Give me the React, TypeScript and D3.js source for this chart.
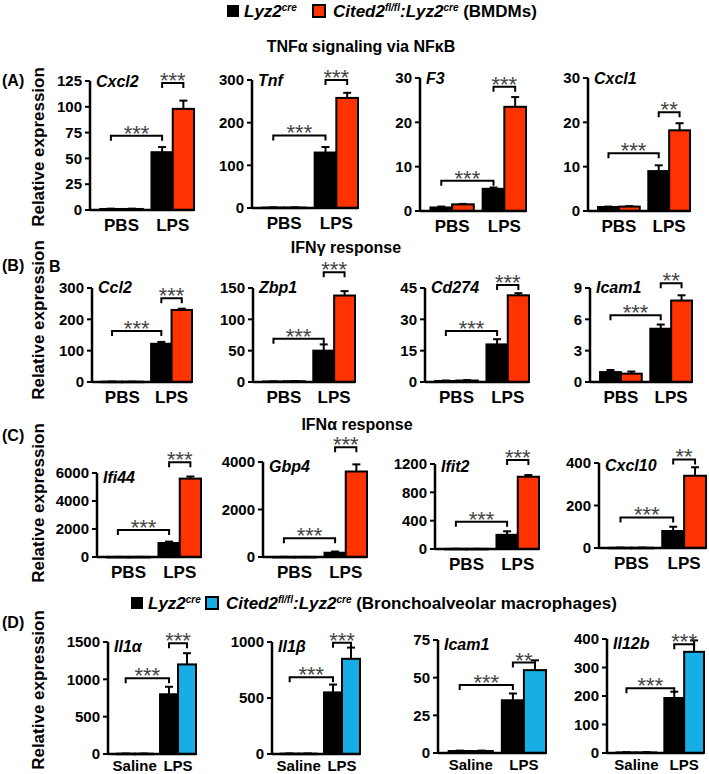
import React from "react";
import * as d3 from "d3";

const FONT = "Arial, 'Liberation Sans', Helvetica, sans-serif";
const RED = "#ff3300";
const BLUE = "#17aee6";

// panels: A (4), B (4), C (4), D (4)
const genes = [
  "Cxcl2", "Tnf", "F3", "Cxcl1",
  "Ccl2", "Zbp1", "Cd274", "Icam1",
  "Ifi44", "Gbp4", "Ifit2", "Cxcl10",
  "Il1\u03b1", "Il1\u03b2", "Icam1", "Il12b",
];
const treatmentsBMDM = ["PBS", "LPS"];
const treatmentsBAL = ["Saline", "LPS"];

const yTicks = [
  [0, 25, 50, 75, 100, 125], [0, 100, 200, 300], [0, 10, 20, 30], [0, 10, 20, 30],
  [0, 100, 200, 300], [0, 50, 100, 150], [0, 15, 30, 45], [0, 3, 6, 9],
  [0, 2000, 4000, 6000], [0, 2000, 4000], [0, 400, 800, 1200], [0, 200, 400],
  [0, 500, 1000, 1500], [0, 500, 1000], [0, 25, 50, 75], [0, 100, 200, 300, 400],
];

// [control, stimulated]
const ctrlMean = [
  [1, 56], [1, 130], [0.8, 5], [0.9, 9],
  [1, 122], [0.8, 50], [0.5, 18], [0.95, 5.1],
  [5, 1000], [3, 180], [2, 200], [1, 80],
  [4, 800], [3, 550], [1.3, 35], [2, 193],
];
const ctrlErr = [
  [1.3, 61], [1.5, 143], [1.0, 5.3], [1.0, 10.3],
  [1.5, 128], [1, 60], [0.7, 20.5], [1.15, 5.5],
  [10, 1100], [5, 230], [3, 250], [2, 100],
  [6, 900], [5, 620], [1.6, 39.5], [3, 215],
];
const koMean = [
  [1, 98], [1, 258], [1.5, 23.5], [1.0, 18.2],
  [1, 230], [1.2, 138], [0.7, 41.5], [0.8, 7.8],
  [5, 5600], [3, 3600], [2, 1020], [1, 340],
  [4, 1200], [3, 850], [1.3, 55], [2, 355],
];
const koErr = [
  [1.3, 106], [1.5, 270], [1.6, 25.7], [1.1, 19.8],
  [1, 234], [1.5, 145], [0.9, 42.5], [1.0, 8.3],
  [10, 5750], [5, 3900], [3, 1045], [2, 380],
  [6, 1350], [5, 950], [1.6, 61.5], [3, 395],
];
// [ctrl vs LPS, LPS ctrl vs LPS KO]
const sigStars = [
  ["***", "***"], ["***", "***"], ["***", "***"], ["***", "**"],
  ["***", "***"], ["***", "***"], ["***", "***"], ["***", "**"],
  ["***", "***"], ["***", "***"], ["***", "***"], ["***", "**"],
  ["***", "***"], ["***", "***"], ["***", "**"], ["***", "***"],
];
const sigLevel = [
  [72, 123], [170, 300], [6.8, 28], [13, 22.3],
  [163, 267], [69, 175], [24.4, 46.4], [6.4, 9.45],
  [1930, 6760], [787, 4620], [386, 1257], [144, 417],
  [1014, 1482], [685, 994], [45.1, 60], [227, 382],
];

// layout
const panelX = [90, 252, 420, 588, 92, 253, 425, 590, 97, 263, 435, 599, 108, 272, 438, 607];
const panelW = [104, 106, 106, 102, 100, 102, 104, 102, 104, 104, 104, 107, 88, 88, 108, 97];
const panelTop = [81, 80, 78, 78, 288, 288, 288, 288, 473, 462, 464, 463, 642, 642, 640, 639];
const panelZero = [210, 208, 211, 211, 382, 382, 382, 382, 557, 557, 549, 548, 754, 754, 753, 753];
const geneDy = [6, 6, 6, 6, 5, 5, 5, 5, 10, 10, 8, 8, 10, 10, 10, 10];

const Panel = ({ i }: { i: number }) => {
  const x0 = panelX[i];
  const w = panelW[i];
  const top = panelTop[i];
  const zero = panelZero[i];
  const isBAL = i >= 12;
  const treatments = isBAL ? treatmentsBAL : treatmentsBMDM;
  const koColor = isBAL ? BLUE : RED;

  const y = d3.scaleLinear().domain([0, d3.max(yTicks[i]) as number]).range([zero, top]);
  const xg = d3.scaleBand().domain(treatments).range([x0, x0 + w])
    .paddingInner(0.17).paddingOuter(0.1).align(1);
  const xs = d3.scaleBand().domain(["ctrl", "ko"]).range([0, xg.bandwidth()]);
  const bw = xs.bandwidth();

  const cx = (t: string, g: string) => (xg(t) as number) + (xs(g) as number) + bw / 2;

  const bracket = (xa: number, xb: number, v: number, stars: string, key: string) => {
    const by = y(v);
    return (
      <g key={key}>
        <path d={`M${xa},${by + 5}V${by}H${xb}V${by + 5}`} fill="none" stroke="#000" strokeWidth={2} />
        <text x={(xa + xb) / 2} y={by + 5} textAnchor="middle" fontSize={22} fill="#444"
          fontFamily={FONT}>{stars}</text>
      </g>
    );
  };

  return (
    <g>
      {/* bars + error bars */}
      {treatments.map((t, j) => {
        const groups = [
          { g: "ctrl", m: ctrlMean[i][j], e: ctrlErr[i][j], fill: "#000" },
          { g: "ko", m: koMean[i][j], e: koErr[i][j], fill: koColor },
        ];
        return groups.map(d => {
          const c = cx(t, d.g);
          return (
            <g key={`${t}-${d.g}`}>
              <line x1={c} x2={c} y1={y(d.m)} y2={y(d.e)} stroke="#000" strokeWidth={2} />
              <line x1={c - 4} x2={c + 4} y1={y(d.e)} y2={y(d.e)} stroke="#000" strokeWidth={2} />
              <rect x={(xg(t) as number) + (xs(d.g) as number)} y={y(d.m)} width={bw}
                height={Math.max(zero - y(d.m), 0.5)} fill={d.fill} stroke="#000" strokeWidth={2} />
            </g>
          );
        });
      })}

      {/* axes */}
      <line x1={x0} x2={x0} y1={top} y2={zero} stroke="#000" strokeWidth={2.5} />
      <line x1={x0} x2={x0 + w} y1={zero} y2={zero} stroke="#000" strokeWidth={2.5} />
      {yTicks[i].map(t => (
        <g key={t}>
          <line x1={x0 - 5} x2={x0} y1={y(t)} y2={y(t)} stroke="#000" strokeWidth={2} />
          <text x={x0 - 8} y={y(t)} dy="0.35em" textAnchor="end" fontSize={15} fontWeight="bold"
            fontFamily={FONT}>{t}</text>
        </g>
      ))}
      {treatments.map(t => (
        <text key={t} x={(xg(t) as number) + xg.bandwidth() / 2} y={zero + (isBAL ? 17 : 21)}
          textAnchor="middle" fontSize={isBAL ? 15 : 17} fontWeight="bold" fontFamily={FONT}>{t}</text>
      ))}

      {/* gene name */}
      <text x={x0 + 6} y={top + geneDy[i]} fontSize={16} fontWeight="bold" fontStyle="italic"
        fontFamily={FONT}>{genes[i]}</text>

      {/* significance */}
      {bracket(cx(treatments[0], "ctrl"), cx(treatments[1], "ctrl"), sigLevel[i][0], sigStars[i][0], "b1")}
      {bracket(cx(treatments[1], "ctrl"), cx(treatments[1], "ko"), sigLevel[i][1], sigStars[i][1], "b2")}
    </g>
  );
};

const Legend = ({ x, y, color, suffix, textX, sq2X, text2X }:
  { x: number; y: number; color: string; suffix: string; textX: number; sq2X: number; text2X: number }) => (
  <g fontFamily={FONT} fontWeight="bold" fontSize={17}>
    <rect x={x} y={y - 12} width={12} height={12} fill="#000" />
    <text x={textX} y={y} fontStyle="italic">
      Lyz2<tspan fontSize={10} dy={-6}>cre</tspan>
    </text>
    <rect x={sq2X} y={y - 12} width={12} height={12} fill={color} stroke="#000" strokeWidth={2} />
    <text x={text2X} y={y}>
      <tspan fontStyle="italic">Cited2</tspan>
      <tspan fontStyle="italic" fontSize={10} dy={-6}>fl/fl</tspan>
      <tspan fontStyle="italic" dy={6}>:Lyz2</tspan>
      <tspan fontStyle="italic" fontSize={10} dy={-6}>cre</tspan>
      <tspan dy={6}>{suffix}</tspan>
    </text>
  </g>
);

const rowLabels = ["(A)", "(B)", "(C)", "(D)"];
const rowLabelY = [86, 271, 441, 628];
const yLabelCenter = [147, 320, 503, 690];

export default function App() {
  const panels = d3.range(genes.length);
  return (
    <div style={{ position: "absolute", left: 0, top: 0 }}>
      <svg width={709} height={774} viewBox="0 0 709 774" style={{ display: "block", background: "#fff" }}>
        <Legend x={227} y={17} color={RED} suffix=" (BMDMs)" textX={244} sq2X={313} text2X={333} />
        <Legend x={131} y={609} color={BLUE} suffix=" (Bronchoalveolar macrophages)" textX={148} sq2X={206} text2X={226} />

        <g fontFamily={FONT} fontWeight="bold" fontSize={16} textAnchor="middle">
          <text x={361} y={52}>TNF&#945; signaling via NF&#954;B</text>
          <text x={346} y={253}>IFN&#947; response</text>
          <text x={357} y={430}>IFN&#945; response</text>
        </g>

        {rowLabels.map((l, k) => (
          <text key={l} x={2} y={rowLabelY[k]} fontSize={16} fontWeight="bold" fontFamily={FONT}>{l}</text>
        ))}
        <text x={49} y={272} fontSize={16} fontWeight="bold" fontFamily={FONT}>B</text>
        {yLabelCenter.map((c, k) => (
          <text key={k} transform={`translate(38,${c}) rotate(-90)`} textAnchor="middle" dy="0.35em"
            fontSize={17} fontWeight="bold" fontFamily={FONT}>Relative expression</text>
        ))}

        {panels.map(i => <Panel key={i} i={i} />)}
      </svg>
    </div>
  );
}
